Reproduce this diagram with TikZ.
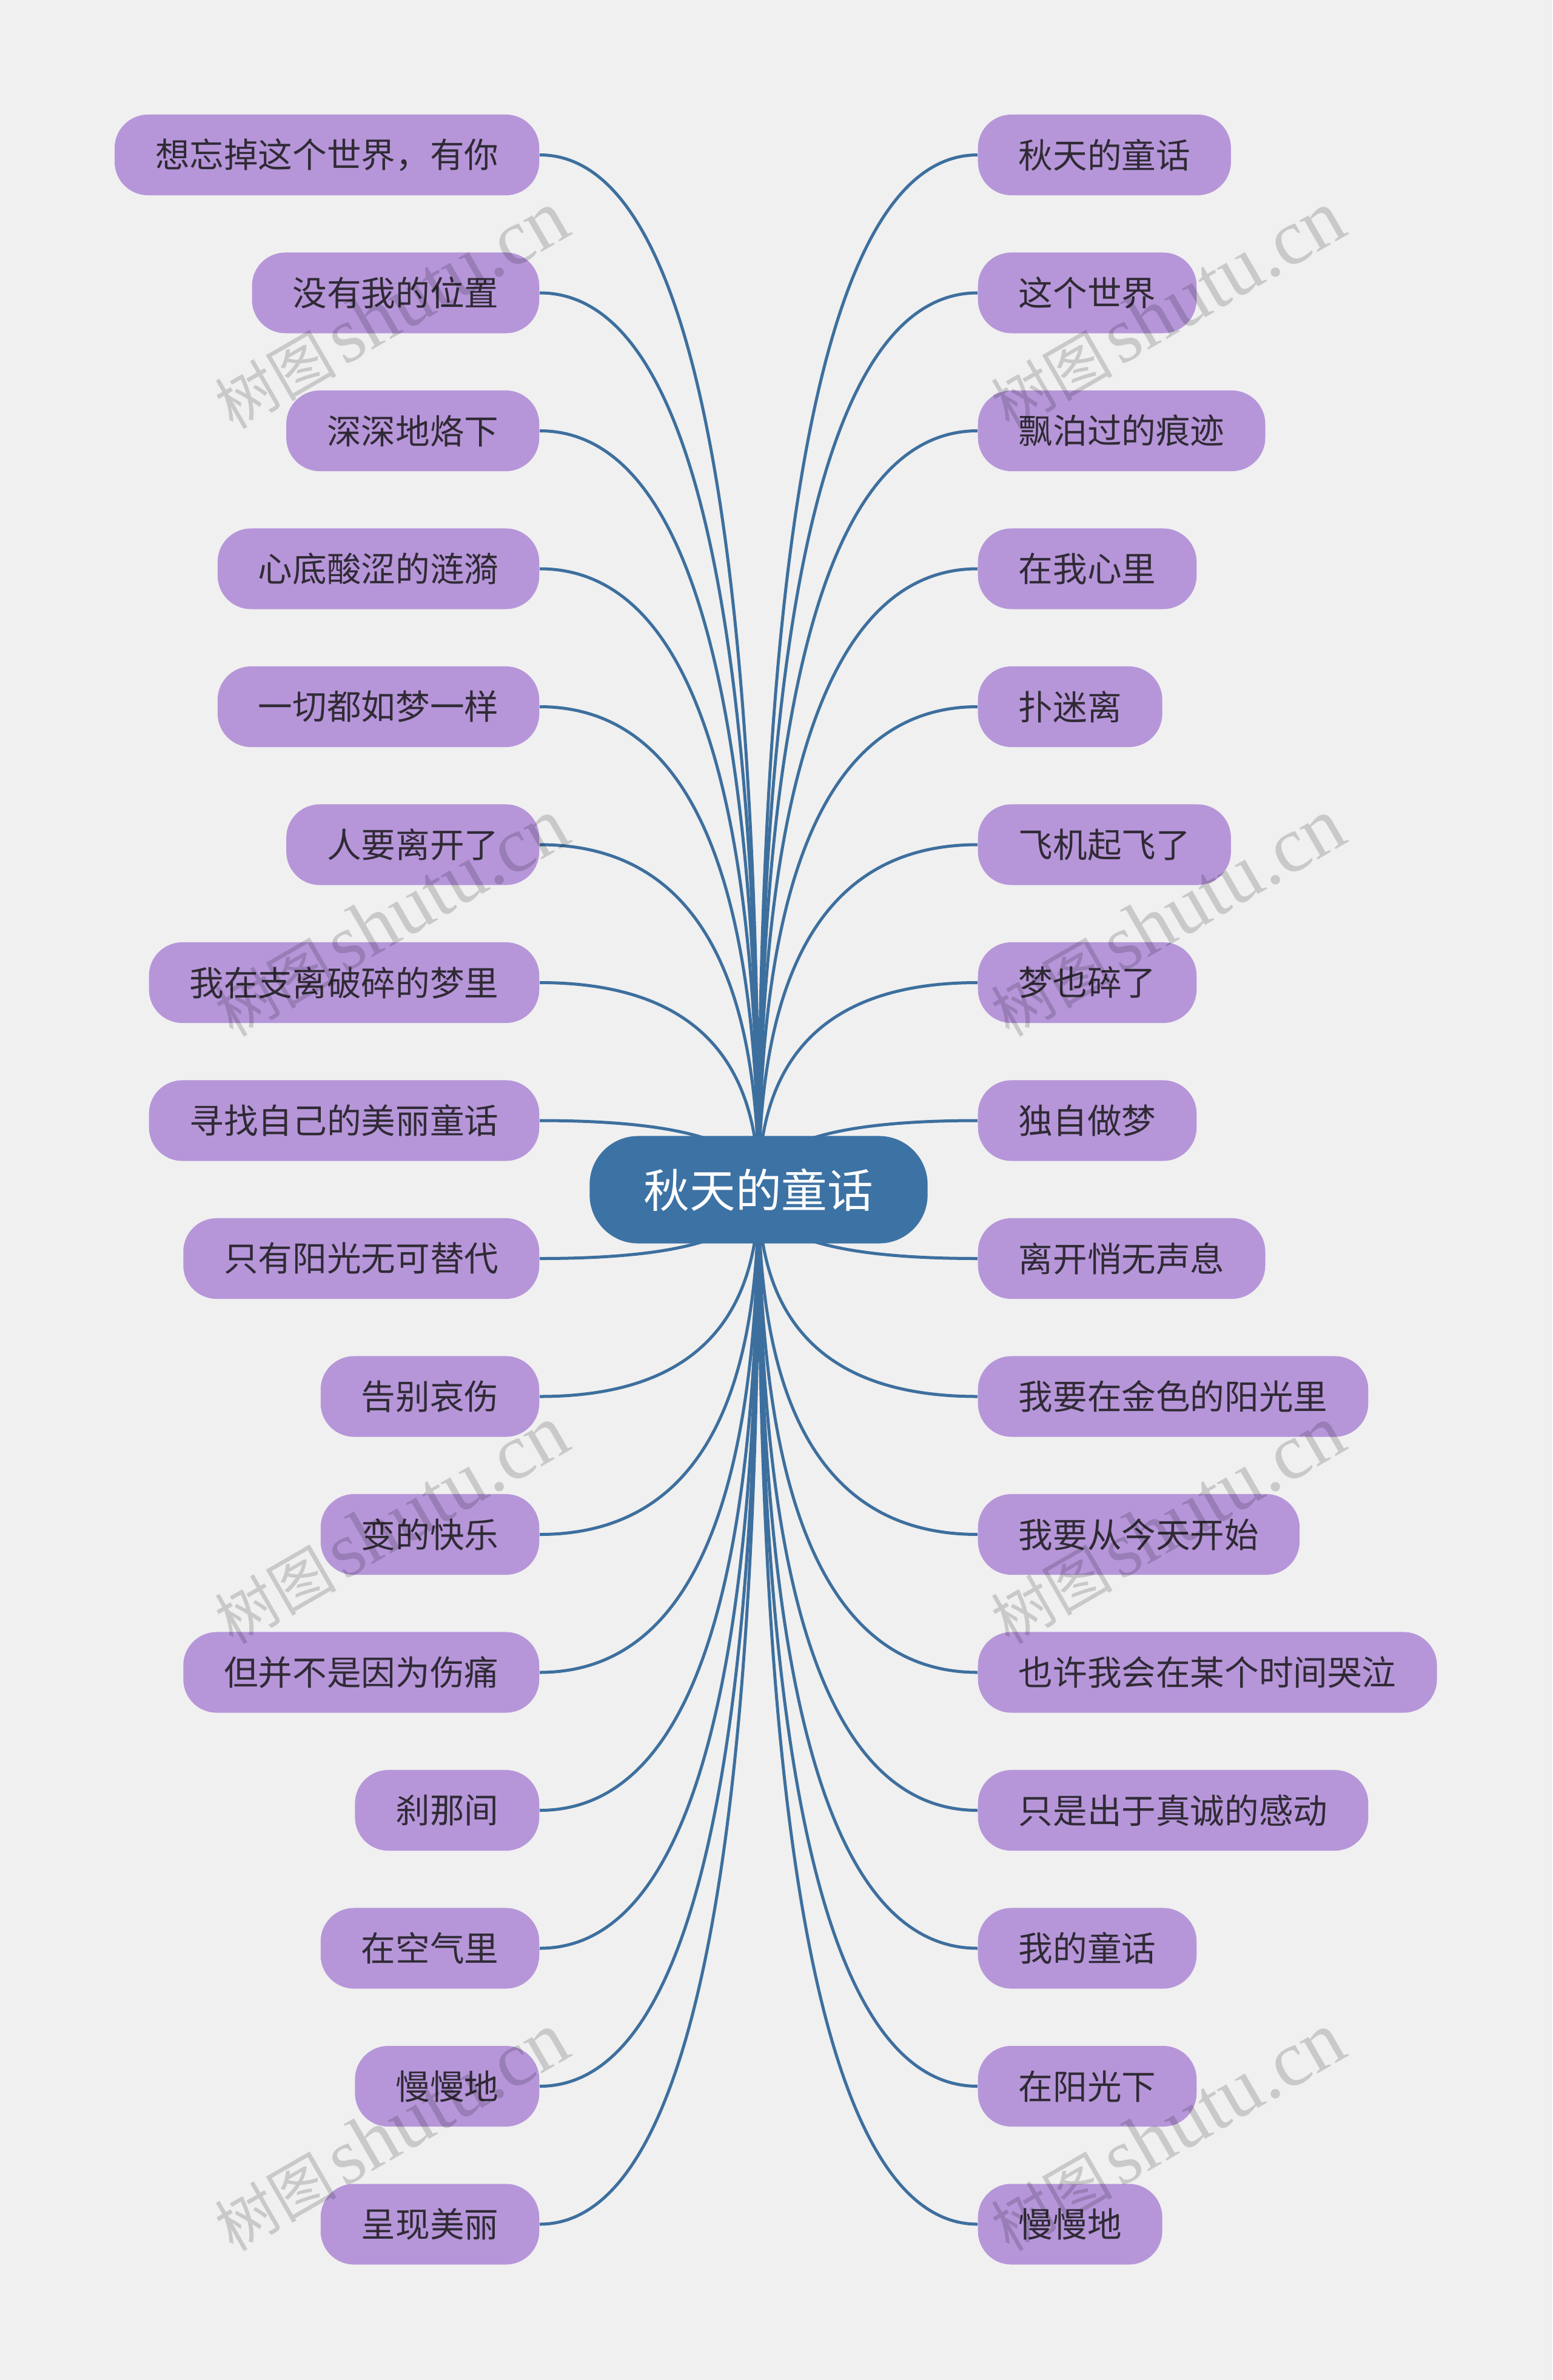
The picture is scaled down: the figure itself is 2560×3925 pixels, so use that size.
\documentclass[tikz,border=0pt]{standalone}
\usepackage{fontspec}
\newfontfamily\cjk{Noto Sans CJK SC}
\newfontfamily\wserif{Liberation Serif}
\usetikzlibrary{backgrounds,calc}
\definecolor{bg}{HTML}{F0F0F0}
\definecolor{leaf}{HTML}{B696D9}
\definecolor{root}{HTML}{3D72A4}
\definecolor{edge}{HTML}{3D6F9E}
\definecolor{ink}{HTML}{302A35}
\begin{document}
\begin{tikzpicture}[x=0.01cm,y=-0.01cm,
  leafbox/.style={fill=leaf, rounded corners=0.55cm, minimum height=1.33cm,
    inner xsep=0.67cm, inner ysep=0pt, text=ink,
    font=\cjk\fontsize{16.1pt}{16.1pt}\selectfont},
  rootbox/.style={fill=root, rounded corners=0.8cm, minimum height=1.77cm,
    minimum width=5.57cm, inner sep=0pt, text=white,
    font=\cjk\fontsize{21.5pt}{21.5pt}\selectfont},
  link/.style={draw=edge, line width=0.05cm},
  wmark/.style={rotate=30, text=black, text opacity=0.16, inner sep=0pt}
]
\path[use as bounding box] (0,0) rectangle (2560,3925);
\node[rootbox] (root) at (1251,1962) {秋天的童话};
\foreach \t [count=\i from 0] in {想忘掉这个世界，有你,没有我的位置,深深地烙下,心底酸涩的涟漪,一切都如梦一样,人要离开了,我在支离破碎的梦里,寻找自己的美丽童话,只有阳光无可替代,告别哀伤,变的快乐,但并不是因为伤痛,刹那间,在空气里,慢慢地,呈现美丽}
  \node[leafbox, anchor=east] (L\i) at (890,255.5+227.5*\i) {\t};
\foreach \t [count=\i from 0] in {秋天的童话,这个世界,飘泊过的痕迹,在我心里,扑迷离,飞机起飞了,梦也碎了,独自做梦,离开悄无声息,我要在金色的阳光里,我要从今天开始,也许我会在某个时间哭泣,只是出于真诚的感动,我的童话,在阳光下,慢慢地}
  \node[leafbox, anchor=west] (R\i) at (1612,255.5+227.5*\i) {\t};
\begin{scope}[on background layer]
  \fill[bg] (0,0) rectangle (2560,3925);
  \foreach \i in {0,...,15} {
    \draw[link] (L\i.east) .. controls ($(L\i.east)!0.6667!(root.center |- L\i.east)$) and ($(root.center)!0.6667!(root.center |- L\i.east)$) .. (root.center);
    \draw[link] (R\i.west) .. controls ($(R\i.west)!0.6667!(root.center |- R\i.west)$) and ($(root.center)!0.6667!(root.center |- R\i.west)$) .. (root.center);
  }
\end{scope}
\foreach \y [count=\k] in {512,1514,2515,3516} {
  \node[wmark] (WL\k) at (645,\y) {{\cjk\fontsize{28.5pt}{28.5pt}\selectfont 树图} {\wserif\fontsize{37pt}{37pt}\selectfont shutu.cn}};
  \node[wmark] (WR\k) at (1925,\y) {{\cjk\fontsize{28.5pt}{28.5pt}\selectfont 树图} {\wserif\fontsize{37pt}{37pt}\selectfont shutu.cn}};
}
\end{tikzpicture}
\end{document}
